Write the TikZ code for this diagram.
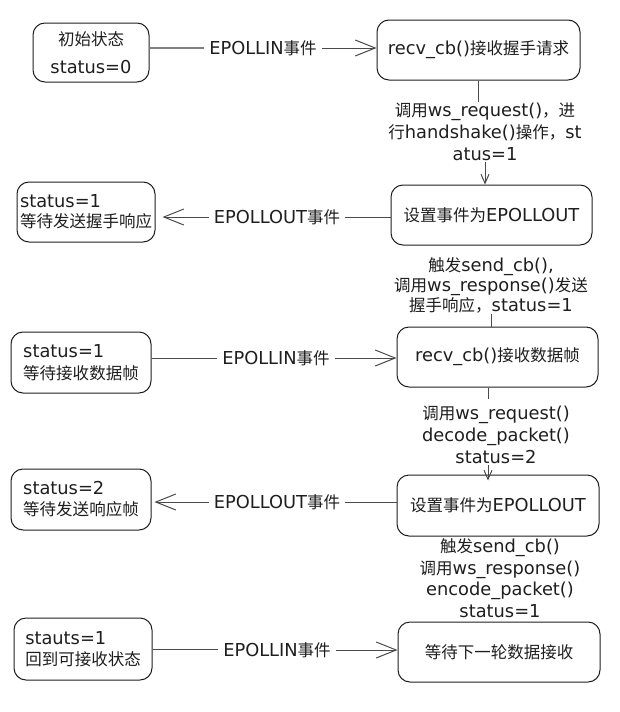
\documentclass[tikz,border=0pt]{standalone}
\usepackage{fontspec}
\setmainfont[Scale=1.08]{DejaVu Sans}
\newfontfamily\cjk{Noto Sans CJK SC}
\newcommand\zh[1]{{\cjk #1}}
\usetikzlibrary{arrows.meta}
\definecolor{ink}{HTML}{1E1E1E}
\definecolor{lnk}{HTML}{4A4A4A}
\begin{document}
\begin{tikzpicture}[x=1pt,y=-1pt,
  box/.style={draw=ink, line width=1pt, rounded corners=12pt, inner sep=0pt,
    minimum height=60pt, font=\fontsize{16.5}{21}\selectfont, text=ink},
  lbl/.style={font=\fontsize{16.5}{20}\selectfont, text=ink, inner xsep=5pt, inner ysep=2pt},
  vlbl/.style={font=\fontsize{16.5}{22}\selectfont, text=ink, align=center, inner sep=1pt},
  conn/.style={draw=lnk, line width=1pt},
  thickconn/.style={draw=black!50, line width=2.6pt},
  dblconn/.style={draw=lnk, line width=0.7pt, double=white, double distance=0.9pt},
  arr/.style={-{Straight Barb[length=20pt,width=16pt,line width=1pt]}},
  varr/.style={-{Straight Barb[length=9pt,width=8pt,line width=1pt]}}]
\useasboundingbox (0,0) rectangle (619,712);

% boxes
\node[box, minimum width=116pt, minimum height=59pt, align=center] (b1) at (91,52.5)
  {\zh{初始状态}\\[7pt]status=0};
\node[box, minimum width=203pt] (b2) at (478.5,50) {recv\_cb()\zh{接收握手请求}};
\node[box, minimum width=201pt] (b3) at (491.5,215) {\zh{设置事件为}EPOLLOUT};
\node[box, minimum width=138pt, align=left] (b4) at (86,212)
  {status=1\\[-1pt]\zh{等待发送握手响应}};
\node[box, minimum width=201pt] (b5) at (497.5,357) {recv\_cb()\zh{接收数据帧}};
\node[box, minimum width=140pt, minimum height=61pt, align=left] (b6) at (81,362.5)
  {status=1\\[1pt]\zh{等待接收数据帧}};
\node[box, minimum width=202pt, minimum height=61pt] (b7) at (498,505.5) {\zh{设置事件为}EPOLLOUT};
\node[box, minimum width=140pt, minimum height=61pt, align=left] (b8) at (81,499.5)
  {status=2\\\zh{等待发送响应帧}};
\node[box, minimum width=202pt] (b9) at (499,652) {\zh{等待下一轮数据接收}};
\node[box, minimum width=138pt, minimum height=62pt, align=left] (b10) at (83,649)
  {stauts=1\\\zh{回到可接收状态}};

% horizontal labels
\node[lbl] (l1) at (263,48) {EPOLLIN\zh{事件}};
\node[lbl] (l2) at (277,217) {EPOLLOUT\zh{事件}};
\node[lbl] (l3) at (276,358) {EPOLLIN\zh{事件}};
\node[lbl] (l4) at (277,502) {EPOLLOUT\zh{事件}};
\node[lbl] (l5) at (277,650) {EPOLLIN\zh{事件}};

% vertical labels
\node[vlbl] (v1) at (485,132)
  {\zh{调用}ws\_request()\zh{，进}\\\zh{行}handshake()\zh{操作，}st\\atus=1};
\node[vlbl, font=\fontsize{16.5}{20}\selectfont] (v2) at (491,285)
  {\zh{触发}send\_cb(),\\\zh{调用}ws\_response()\zh{发送}\\\zh{握手响应，}status=1};
\node[vlbl] (v3) at (496,435)
  {\zh{调用}ws\_request()\\decode\_packet()\\status=2};
\node[vlbl, font=\fontsize{16.5}{21.5}\selectfont] (v4) at (500,578)
  {\zh{触发}send\_cb()\\\zh{调用}ws\_response()\\encode\_packet()\\status=1};

\coordinate (v3a) at (488,399);

% horizontal connectors
\draw[thickconn] (l1.west -| b1.east) -- (l1.west);
\draw[conn, arr] (l1.east) -- (l1.east -| b2.west);
\draw[conn] (l2.east -| b3.west) -- (l2.east);
\draw[conn, arr] (l2.west) -- ([xshift=7pt]l2.west -| b4.east);
\draw[conn] (l3.west -| b6.east) -- (l3.west);
\draw[conn, arr] (l3.east) -- (l3.east -| b5.west);
\draw[conn] (l4.east -| b7.west) -- (l4.east);
\draw[conn, arr] (l4.west) -- ([xshift=3pt]l4.west -| b8.east);
\draw[dblconn] (l5.west -| b10.east) -- (l5.west);
\draw[conn, arr] (l5.east) -- (l5.east -| b9.west);

% vertical connectors
\draw[conn] (b2.south) -- (b2.south |- v1.north);
\draw[conn, varr] (v1.south) -- (v1.south |- b3.north);
\draw[conn] (v2.south) -- (v2.south |- b5.north);
\draw[conn] (b5.south -| v3a) -- (v3a);
\draw[conn, varr] (v3.south -| v3a) -- ([yshift=-6pt]v3a |- b7.north);
\end{tikzpicture}
\end{document}
